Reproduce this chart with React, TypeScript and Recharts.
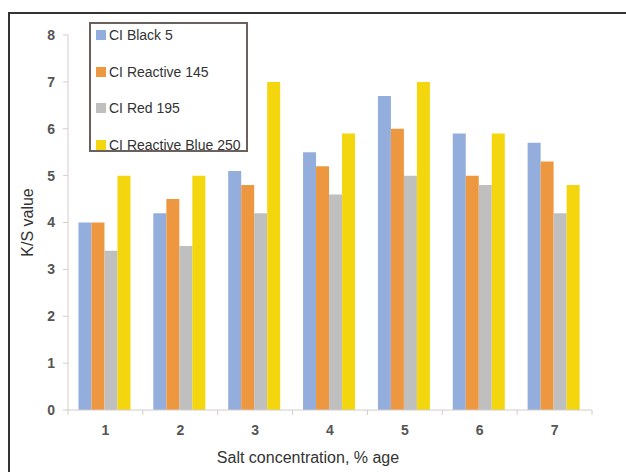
import { BarChart, Bar, XAxis, YAxis } from "recharts";

const categories = ["1", "2", "3", "4", "5", "6", "7"];
const black5 = [4.0, 4.2, 5.1, 5.5, 6.7, 5.9, 5.7];
const reactive145 = [4.0, 4.5, 4.8, 5.2, 6.0, 5.0, 5.3];
const red195 = [3.4, 3.5, 4.2, 4.6, 5.0, 4.8, 4.2];
const reactiveBlue250 = [5.0, 5.0, 7.0, 5.9, 7.0, 5.9, 4.8];
const yTicks = [0, 1, 2, 3, 4, 5, 6, 7, 8];

const SERIES = [
  { key: "black5", name: "CI Black 5", color: "#93aedc" },
  { key: "reactive145", name: "CI Reactive 145", color: "#ed9840" },
  { key: "red195", name: "CI Red 195", color: "#bfbfbf" },
  { key: "reactiveBlue250", name: "CI Reactive Blue 250", color: "#f3d60d" },
];

const data = categories.map((c, i) => ({
  cat: c,
  black5: black5[i],
  reactive145: reactive145[i],
  red195: red195[i],
  reactiveBlue250: reactiveBlue250[i],
}));

const W = 626;
const H = 472;
const M = { top: 35, right: 34, left: 0, bottom: 0 };
const Y_W = 68;
const BAND = (W - Y_W - M.right) / categories.length;
const AXIS = "#d6cccc";
const FONT = "'Liberation Sans', Arial, sans-serif";

function XTick(props: any) {
  const { x, y, payload, index } = props;
  return (
    <g>
      {index === 0 && (
        <line x1={x - BAND / 2} x2={x - BAND / 2} y1={y - 8} y2={y - 3} stroke={AXIS} />
      )}
      <line x1={x + BAND / 2} x2={x + BAND / 2} y1={y - 8} y2={y - 3} stroke={AXIS} />
      <text
        x={x}
        y={y + 17}
        textAnchor="middle"
        fill="#555"
        fontSize={14}
        fontWeight="bold"
        fontFamily={FONT}
      >
        {payload.value}
      </text>
    </g>
  );
}

function LegendBox() {
  return (
    <div
      style={{
        position: "absolute",
        left: 89,
        top: 22,
        width: 155,
        height: 126,
        border: "2px solid #6b605c",
        fontFamily: FONT,
        fontSize: 14,
        color: "#333",
        background: "#fff",
      }}
    >
      {SERIES.map((s, i) => (
        <div
          key={s.key}
          style={{
            position: "absolute",
            left: 5,
            top: 3 + i * 36.5,
            display: "flex",
            alignItems: "center",
            whiteSpace: "nowrap",
          }}
        >
          <span style={{ width: 10, height: 10, background: s.color, marginRight: 3 }} />
          <span>{s.name}</span>
        </div>
      ))}
    </div>
  );
}

export default function App() {
  return (
    <div
      style={{
        position: "fixed",
        left: 0,
        top: 0,
        width: W,
        height: H,
        background: "#fff",
        overflow: "hidden",
      }}
    >
      <div
        style={{
          position: "absolute",
          left: 8,
          top: 12,
          width: W,
          height: H,
          borderTop: "2px solid #333",
          borderLeft: "2px solid #333",
        }}
      />
      <BarChart
        width={W}
        height={H}
        data={data}
        margin={M}
        barCategoryGap="14%"
        barGap={0}
      >
        <XAxis
          dataKey="cat"
          height={62}
          stroke={AXIS}
          tickLine={false}
          tick={<XTick />}
          interval={0}
          label={{
            value: "Salt concentration, % age",
            position: "insideBottom",
            offset: 9,
            dx: -22,
            fill: "#333",
            fontSize: 16,
            fontFamily: FONT,
          }}
        />
        <YAxis
          width={Y_W}
          domain={[0, 8]}
          ticks={yTicks}
          interval={0}
          stroke={AXIS}
          tickSize={5}
          tick={{ fill: "#555", fontSize: 14, fontWeight: "bold", fontFamily: FONT }}
          tickMargin={8}
          label={{
            value: "K/S value",
            angle: -90,
            position: "insideLeft",
            offset: 27,
            style: { textAnchor: "middle" },
            fill: "#333",
            fontSize: 16,
            fontFamily: FONT,
          }}
        />
        {SERIES.map((s) => (
          <Bar
            key={s.key}
            dataKey={s.key}
            name={s.name}
            fill={s.color}
            isAnimationActive={false}
          />
        ))}
      </BarChart>
      <LegendBox />
    </div>
  );
}
